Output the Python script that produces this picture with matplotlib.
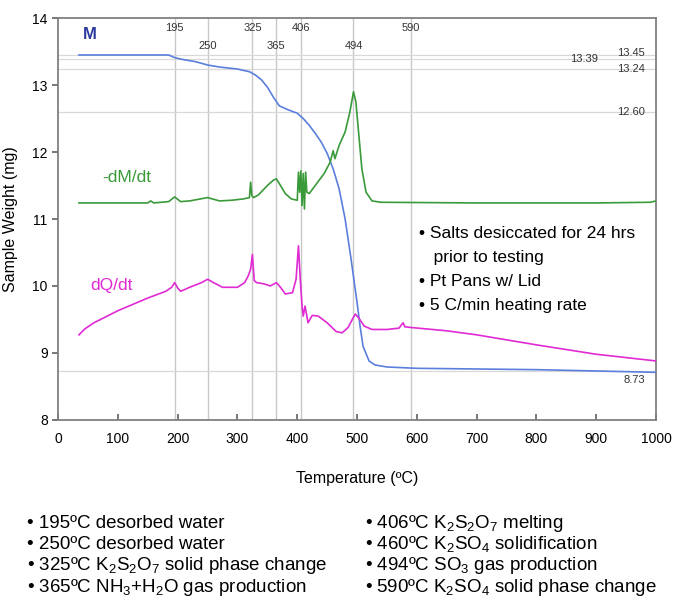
import matplotlib.pyplot as plt

plt.rcParams['font.family'] = ['Liberation Sans', 'DejaVu Sans']
plt.rcParams['mathtext.fontset'] = 'custom'
plt.rcParams['mathtext.rm'] = 'Liberation Sans'
plt.rcParams['mathtext.it'] = 'Liberation Sans'

# mass curve M (mg)
m_temp = [35, 100, 185, 195, 210, 230, 250, 270, 300, 320, 330, 340, 350, 360, 370, 385,
          400, 410, 420, 430, 440, 450, 460, 470, 480, 490, 500, 505, 510, 520, 530,
          550, 600, 700, 800, 900, 1000]
m_val = [13.45, 13.45, 13.45, 13.41, 13.38, 13.35, 13.30, 13.27, 13.24, 13.20, 13.15,
         13.08, 12.97, 12.82, 12.69, 12.63, 12.58, 12.50, 12.40, 12.28, 12.15, 11.98,
         11.75, 11.45, 11.0, 10.4, 9.75, 9.4, 9.1, 8.88, 8.82, 8.79, 8.77, 8.76,
         8.75, 8.73, 8.71]

# -dM/dt curve
g_temp = [35, 100, 150, 155, 160, 185, 195, 205, 220, 250, 270, 290, 310, 320, 322,
          324, 327, 335, 350, 360, 365, 372, 380, 390, 400, 402, 404, 406, 408, 410,
          412, 414, 416, 420, 430, 445, 455, 460, 463, 470, 480, 488, 494, 498, 503,
          508, 515, 525, 540, 700, 900, 990, 1000]
g_val = [11.24, 11.24, 11.24, 11.27, 11.24, 11.26, 11.33, 11.26, 11.27, 11.32, 11.27,
         11.28, 11.30, 11.32, 11.55, 11.35, 11.32, 11.36, 11.50, 11.58, 11.60, 11.50,
         11.38, 11.30, 11.28, 11.70, 11.40, 11.72, 11.20, 11.68, 11.15, 11.70, 11.40,
         11.38, 11.50, 11.68, 11.85, 12.02, 11.90, 12.10, 12.30, 12.60, 12.90, 12.75,
         12.25, 11.75, 11.40, 11.27, 11.25, 11.24, 11.24, 11.25, 11.27]

# dQ/dt curve
q_temp = [35, 45, 60, 100, 150, 180, 190, 195, 200, 205, 220, 240, 250, 260, 275, 300,
          312, 318, 322, 325, 328, 332, 345, 355, 365, 372, 380, 392, 398, 402, 405,
          408, 410, 413, 418, 425, 435, 450, 465, 475, 485, 492, 497, 503, 512, 525,
          550, 570, 577, 580, 590, 650, 700, 800, 900, 1000]
q_val = [9.27, 9.36, 9.45, 9.63, 9.82, 9.92, 9.98, 10.05, 9.97, 9.92, 9.98, 10.05,
         10.10, 10.05, 9.98, 9.98, 10.05, 10.15, 10.25, 10.47, 10.08, 10.05, 10.03, 10.0,
         10.05, 9.98, 9.88, 9.90, 10.10, 10.60, 10.10, 9.70, 9.55, 9.70, 9.45, 9.56,
         9.55, 9.45, 9.32, 9.30, 9.38, 9.50, 9.58, 9.52, 9.40, 9.35, 9.35, 9.37, 9.45,
         9.39, 9.38, 9.33, 9.27, 9.12, 8.98, 8.88]

event_temps = [195, 250, 325, 365, 406, 494, 590]
event_rows = [0, 1, 0, 1, 0, 1, 0]
level_vals = [13.45, 13.39, 13.24, 12.60, 8.73]

test_notes = ['• Salts desiccated for 24 hrs', '   prior to testing',
              '• Pt Pans w/ Lid', '• 5 C/min heating rate']

notes_left = ['• 195ºC desorbed water',
              '• 250ºC desorbed water',
              '• 325ºC K$_2$S$_2$O$_7$ solid phase change',
              '• 365ºC NH$_3$+H$_2$O gas production']
notes_right = ['• 406ºC K$_2$S$_2$O$_7$ melting',
               '• 460ºC K$_2$SO$_4$ solidification',
               '• 494ºC SO$_3$ gas production',
               '• 590ºC K$_2$SO$_4$ solid phase change']

fig = plt.figure(figsize=(6.75, 6.05), dpi=100)
ax = fig.add_axes([0.086, 0.306, 0.886, 0.664])

# reference grid lines
for t in event_temps:
    ax.axvline(t, color='#c8c8c8', lw=1.0, zorder=1)
for v in level_vals:
    ax.axhline(v, color='#d8d8d8', lw=0.9, zorder=1)

ax.plot(m_temp, m_val, color='#5b7fdc', lw=1.2, zorder=3)
ax.plot(g_temp, g_val, color='#3a9a3a', lw=1.2, zorder=3)
ax.plot(q_temp, q_val, color='#e02ad4', lw=1.2, zorder=3)

for t, r in zip(event_temps, event_rows):
    ax.text(t, 13.85 - 0.27 * r, str(t), ha='center', va='center', fontsize=8, color='#333333')

ax.text(880, 13.39, '13.39', ha='center', va='center', fontsize=8, color='#333333')
ax.text(982, 13.48, '13.45', ha='right', va='center', fontsize=8, color='#333333')
ax.text(982, 13.24, '13.24', ha='right', va='center', fontsize=8, color='#333333')
ax.text(982, 12.60, '12.60', ha='right', va='center', fontsize=8, color='#333333')
ax.text(982, 8.60, '8.73', ha='right', va='center', fontsize=8, color='#333333')

ax.text(42, 13.75, 'M', fontsize=12, fontweight='bold', color='#2b3a9c', va='center')
ax.text(74, 11.62, '-dM/dt', fontsize=12.5, color='#3a9a3a', va='center')
ax.text(54, 10.01, 'dQ/dt', fontsize=12.5, color='#e02ad4', va='center')

for i, line in enumerate(test_notes):
    ax.text(603, 10.79 - i * 0.36, line, fontsize=12.5, va='center', ha='left')

ax.set_xlim(0, 1000)
ax.set_ylim(8, 14)
ax.set_xticks(range(0, 1001, 100))
ax.set_yticks(range(8, 15))
ax.set_xlabel('Temperature (ºC)', fontsize=11.5, labelpad=18)
ax.set_ylabel('Sample Weight (mg)', fontsize=11.5, labelpad=10)
ax.tick_params(axis='both', labelsize=10, color='#606060', length=4, width=1.2)
ax.tick_params(axis='x', direction='in', pad=9)
for s in ax.spines.values():
    s.set_color('#808080')
    s.set_linewidth(1.3)

for i, (a, b) in enumerate(zip(notes_left, notes_right)):
    y = 0.1355 - i * 0.0355
    fig.text(0.040, y, a, fontsize=13.5, va='center')
    fig.text(0.541, y, b, fontsize=13.5, va='center')

plt.savefig('out.png', format='png')
